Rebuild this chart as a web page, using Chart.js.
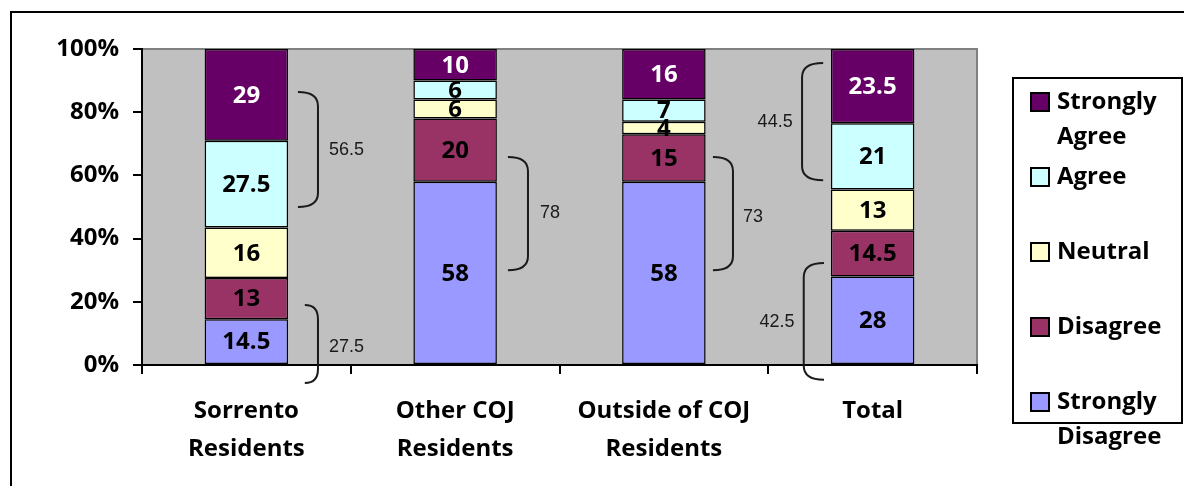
<!DOCTYPE html>
<html lang="en">
<head>
  <meta charset="UTF-8" />
  <title>Survey responses by residence</title>
  <script src="https://cdn.jsdelivr.net/npm/chart.js"></script>
  <style>
    html, body { margin: 0; padding: 0; background: #fff; }
    #grafico { display: block; }
  </style>
</head>
<body>
  <canvas id="grafico" width="1184" height="486"></canvas>

  <script>
    // dados
    var categorias = [["Sorrento", "Residents"], ["Other COJ", "Residents"], ["Outside of COJ", "Residents"], "Total"];
    var series = ["Strongly Disagree", "Disagree", "Neutral", "Agree", "Strongly Agree"];
    var stronglyDisagree = [14.5, 58, 58, 28];
    var disagree = [13, 20, 15, 14.5];
    var neutral = [16, 6, 4, 13];
    var agree = [27.5, 6, 7, 21];
    var stronglyAgree = [29, 10, 16, 23.5];
    var valores = [stronglyDisagree, disagree, neutral, agree, stronglyAgree];

    // chaves (somas anotadas)
    var chaveCategoria = [0, 0, 1, 2, 3, 3];
    var chaveTexto = ["56.5", "27.5", "78", "73", "44.5", "42.5"];

    // geometria das chaves (unidades do eixo: categoria e %)
    var chaveDe = [50, -5.7, 30, 30, 58.5, -4.7];
    var chaveAte = [86.4, 19, 65.8, 65.8, 95.6, 32.3];
    var chavePonta = [0.247, 0.28, 0.253, 0.235, -0.237, -0.233];
    var chaveHaste = [0.343, 0.343, 0.349, 0.331, -0.338, -0.33];
    var textoX = [0.48, 0.48, 0.454, 0.427, -0.467, -0.458];
    var textoY = [68, 5.7, 48, 46.8, 76.9, 13.6];

    var cores = ["#9999FF", "#993366", "#FFFFCC", "#CCFFFF", "#660066"];
    var fonte = "'Open Sans', sans-serif";

    var fundo = {
      id: "fundo",
      beforeDraw: function (chart) {
        var ctx = chart.ctx, a = chart.chartArea;
        ctx.save();
        ctx.fillStyle = "#C0C0C0";
        ctx.fillRect(a.left, a.top, a.right - a.left, a.bottom - a.top);
        ctx.strokeStyle = "#808080";
        ctx.lineWidth = 2;
        ctx.beginPath();
        ctx.moveTo(a.left, a.top);
        ctx.lineTo(a.right, a.top);
        ctx.lineTo(a.right, a.bottom);
        ctx.stroke();
        // moldura externa
        ctx.strokeStyle = "#000";
        ctx.beginPath();
        ctx.moveTo(11, 486);
        ctx.lineTo(11, 12);
        ctx.lineTo(1184, 12);
        ctx.stroke();
        ctx.restore();
      }
    };

    var rotulos = {
      id: "rotulos",
      afterDatasetsDraw: function (chart) {
        var ctx = chart.ctx;
        ctx.save();
        ctx.font = "bold 24px " + fonte;
        ctx.textAlign = "center";
        ctx.textBaseline = "middle";
        for (var i = 0; i < valores.length; i++) {
          var meta = chart.getDatasetMeta(i);
          ctx.fillStyle = i == 4 ? "#fff" : "#000";
          for (var j = 0; j < meta.data.length; j++) {
            var el = meta.data[j];
            ctx.fillText(String(valores[i][j]), el.x, (el.y + el.base) / 2 + 1);
          }
        }
        ctx.restore();
      }
    };

    var chaves = {
      id: "chaves",
      afterDraw: function (chart) {
        var ctx = chart.ctx;
        var xs = chart.scales.x, ys = chart.scales.y;
        var cw = xs.getPixelForValue(1) - xs.getPixelForValue(0);
        ctx.save();
        ctx.strokeStyle = "#1a1a1a";
        ctx.lineWidth = 2;
        for (var k = 0; k < chaveTexto.length; k++) {
          var cx = xs.getPixelForValue(chaveCategoria[k]);
          var xa = cx + chavePonta[k] * cw;
          var xb = cx + chaveHaste[k] * cw;
          var yt = ys.getPixelForValue(chaveAte[k]);
          var yb = ys.getPixelForValue(chaveDe[k]);
          var r = 14;
          ctx.beginPath();
          ctx.moveTo(xa, yt);
          ctx.quadraticCurveTo(xb, yt, xb, yt + r);
          ctx.lineTo(xb, yb - r);
          ctx.quadraticCurveTo(xb, yb, xa, yb);
          ctx.stroke();

          ctx.font = "18px 'Liberation Sans', Arial, sans-serif";
          ctx.fillStyle = "#1a1a1a";
          ctx.textAlign = "center";
          ctx.textBaseline = "middle";
          ctx.fillText(chaveTexto[k], cx + textoX[k] * cw, ys.getPixelForValue(textoY[k]));
        }
        ctx.restore();
      }
    };

    var legenda = {
      id: "legenda",
      afterDraw: function (chart) {
        var ctx = chart.ctx;
        ctx.save();
        ctx.strokeStyle = "#000";
        ctx.lineWidth = 2;
        ctx.strokeRect(1013, 78, 169, 345);
        ctx.font = "bold 24px " + fonte;
        ctx.textAlign = "left";
        ctx.textBaseline = "middle";
        for (var n = 0; n < series.length; n++) {
          var i = series.length - 1 - n;
          var y = 102 + n * 75;
          ctx.fillStyle = cores[i];
          ctx.fillRect(1031, y - 9, 18, 18);
          ctx.strokeStyle = "#000";
          ctx.strokeRect(1031, y - 9, 18, 18);
          var linhas = series[i].split(" ");
          ctx.fillStyle = "#000";
          for (var l = 0; l < linhas.length; l++) {
            ctx.fillText(linhas[l], 1057, y + l * 35);
          }
        }
        ctx.restore();
      }
    };

    var datasets = [];
    for (var i = 0; i < series.length; i++) {
      datasets.push({
        label: series[i],
        data: valores[i],
        backgroundColor: cores[i],
        borderColor: "#000",
        borderWidth: 1.5,
        borderSkipped: false,
        barPercentage: 0.4,
        categoryPercentage: 1
      });
    }

    new Chart(grafico, {
      type: "bar",
      data: { labels: categorias, datasets: datasets },
      plugins: [fundo, rotulos, chaves, legenda],
      options: {
        responsive: false,
        animation: false,
        layout: { padding: { left: 0, top: 49, right: 207, bottom: 0 } },
        plugins: { legend: { display: false }, tooltip: { enabled: false } },
        scales: {
          x: {
            stacked: true,
            grid: { drawOnChartArea: false, tickLength: 9, color: "#000", lineWidth: 2, offset: true },
            border: { color: "#000", width: 2 },
            ticks: {
              color: "#000",
              padding: 19,
              maxRotation: 0,
              autoSkip: false,
              font: { family: fonte, size: 24, weight: "bold", lineHeight: 1.55 }
            },
            afterFit: function (s) { s.height = 121; }
          },
          y: {
            stacked: true,
            min: 0,
            max: 100,
            grid: { drawOnChartArea: false, tickLength: 9, color: "#000", lineWidth: 2 },
            border: { color: "#000", width: 2 },
            ticks: {
              stepSize: 20,
              color: "#000",
              padding: 14,
              font: { family: fonte, size: 24, weight: "bold" },
              callback: function (v) { return v + "%"; }
            },
            afterFit: function (s) { s.width = 142; }
          }
        }
      }
    });
  </script>
</body>
</html>
